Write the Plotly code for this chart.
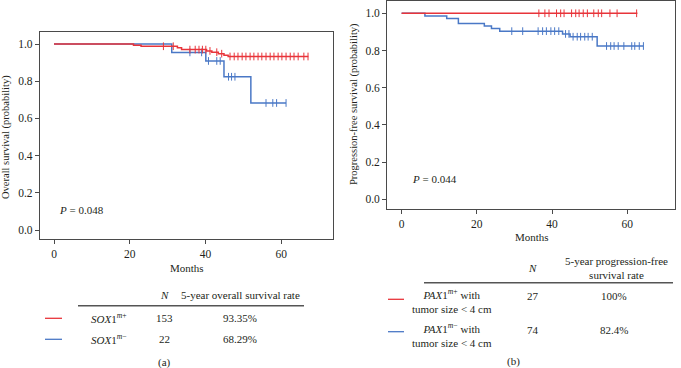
import numpy as np
import plotly.graph_objects as go

W, H = 681, 368
RED = "#E8343A"
BLUE = "#4A78C6"
FRAME = "#4a4a4a"
TXT = "#231f20"
FONT = "Liberation Serif"

# ---- (a) overall survival ----
os_pos_times = [0, 21, 23, 32.6, 33.7, 40.3, 41.7, 43.4, 44.9, 46.0]
os_pos_surv = [1.0, 0.994, 0.988, 0.980, 0.970, 0.963, 0.956, 0.948, 0.940, 0.933]
os_pos_end = 67.2
os_pos_censor = [28.9, 31.5, 35.9, 37.3, 38.3, 39.2, 40.1, 41.2, 43.0, 44.3,
                 46.5, 47.6, 48.6, 49.7, 50.7, 51.8, 52.8, 53.9, 54.9, 56.0,
                 57.1, 58.1, 59.2, 60.2, 61.3, 62.4, 63.4, 64.5, 66.0, 67.1]

os_neg_times = [0, 31.1, 40.1, 44.9, 52.0]
os_neg_surv = [1.0, 0.955, 0.909, 0.824, 0.683]
os_neg_end = 61.3
os_neg_censor = [35.9, 39.0, 40.8, 43.0, 43.9, 46.1, 46.9, 47.8, 56.0, 57.8, 58.8, 61.3]

# ---- (b) progression-free survival ----
pfs_pos_times = [0]
pfs_pos_surv = [1.0]
pfs_pos_end = 62.7
pfs_pos_censor = [36.5, 38.1, 39.2, 41.2, 42.3, 43.2, 45.2, 46.3, 47.2, 48.3,
                  49.4, 51.1, 52.3, 53.2, 55.4, 57.3, 62.5]

pfs_neg_times = [0, 6.2, 12.0, 15.1, 22.0, 23.9, 26.1, 42.8, 44.8, 52.0]
pfs_neg_surv = [1.0, 0.986, 0.972, 0.945, 0.932, 0.918, 0.904, 0.889, 0.874, 0.824]
pfs_neg_end = 64.3
pfs_neg_censor = [29.3, 32.2, 36.3, 37.5, 38.5, 39.7, 40.7, 41.8, 43.6, 44.5,
                  45.6, 46.7, 47.6, 48.7, 49.6, 50.7, 54.5, 55.6, 56.5, 57.6,
                  59.1, 61.2, 62.0, 63.2, 64.3]

x_ticks = [0, 20, 40, 60]
y_ticks = [0.0, 0.2, 0.4, 0.6, 0.8, 1.0]

table_a_header = ["N", "5-year overall survival rate"]
table_a_groups = ["<i>SOX</i>1<sup><i>m</i>+</sup>", "<i>SOX</i>1<sup><i>m</i>−</sup>"]
table_a_n = ["153", "22"]
table_a_rate = ["93.35%", "68.29%"]

table_b_groups = ["<i>PAX</i>1<sup><i>m</i>+</sup> with<br>tumor size &lt; 4 cm",
                  "<i>PAX</i>1<sup><i>m</i>−</sup> with<br>tumor size &lt; 4 cm"]
table_b_n = ["27", "74"]
table_b_rate = ["100%", "82.4%"]


def px(x):
    return x / W


def py(y):
    return 1 - y / H


def step_xy(times, surv, end):
    return list(times) + [end], list(surv) + [surv[-1]]


def censor_y(times, surv, cens):
    idx = np.searchsorted(np.array(times), np.array(cens), side="right") - 1
    return [surv[i] for i in idx]


fig = go.Figure()


def add_curve(times, surv, end, cens, color, xa, ya):
    xs, ys = step_xy(times, surv, end)
    fig.add_trace(go.Scatter(x=xs, y=ys, mode="lines", line=dict(color=color, width=1.5, shape="hv"),
                             xaxis=xa, yaxis=ya, showlegend=False, hoverinfo="skip"))
    fig.add_trace(go.Scatter(x=cens, y=censor_y(times, surv, cens), mode="markers",
                             marker=dict(symbol="line-ns", size=5.5, line=dict(color=color, width=1)),
                             xaxis=xa, yaxis=ya, showlegend=False, hoverinfo="skip"))


add_curve(os_neg_times, os_neg_surv, os_neg_end, os_neg_censor, BLUE, "x", "y")
add_curve(os_pos_times, os_pos_surv, os_pos_end, os_pos_censor, RED, "x", "y")
add_curve(pfs_neg_times, pfs_neg_surv, pfs_neg_end, pfs_neg_censor, BLUE, "x2", "y2")
add_curve(pfs_pos_times, pfs_pos_surv, pfs_pos_end, pfs_pos_censor, RED, "x2", "y2")

axis_common = dict(showline=True, mirror=True, linecolor=FRAME, linewidth=1.3, ticks="outside",
                   ticklen=4, tickcolor=FRAME, tickwidth=1, showgrid=False, zeroline=False,
                   tickfont=dict(family=FONT, size=11.5, color=TXT))

fig.update_layout(
    width=W, height=H, margin=dict(l=0, r=0, t=0, b=0),
    paper_bgcolor="white", plot_bgcolor="white",
    xaxis=dict(domain=[px(40), px(333)], range=[-3.7, 73.7], tickvals=x_ticks, anchor="y", **axis_common),
    yaxis=dict(domain=[py(239.3), py(32.3)], range=[-0.05, 1.063], tickvals=y_ticks, tickformat=".1f",
               anchor="x", **axis_common),
    xaxis2=dict(domain=[px(387.3), px(675)], range=[-3.8, 72.7], tickvals=x_ticks, anchor="y2", **axis_common),
    yaxis2=dict(domain=[py(209), py(1)], range=[-0.052, 1.066], tickvals=y_ticks, tickformat=".1f",
                anchor="x2", **axis_common),
)

ann = []


def text(x, y, s, size=11, angle=0, xanchor="center"):
    ann.append(dict(x=px(x), y=py(y), xref="paper", yref="paper", text=s, showarrow=False,
                    textangle=angle, xanchor=xanchor, yanchor="middle",
                    font=dict(family=FONT, size=size, color=TXT)))


# axis titles
text(6, 137, "Overall survival (probability)", size=10.5, angle=-90)
text(186.5, 268, "Months", size=11)
text(354, 104, "Progression-free survival (probability)", size=10.5, angle=-90)
text(532, 237, "Months", size=11)
# p-values
text(57, 210, "<i>P</i> = 0.048", size=11, xanchor="left")
text(410, 179, "<i>P</i> = 0.044", size=11, xanchor="left")

# table (a)
text(164, 295, "<i>" + table_a_header[0] + "</i>")
text(240, 295, table_a_header[1])
row_y_a = [318.3, 339.3]
for i in range(2):
    text(109, row_y_a[i], table_a_groups[i])
    text(164, row_y_a[i], table_a_n[i])
    text(240, row_y_a[i], table_a_rate[i])
text(164, 362, "(a)")

# table (b)
text(532.7, 268.3, "<i>N</i>")
text(616, 268.3, "5-year progression-free<br>survival rate")
row_y_b = [300.8, 334.5]
for i in range(2):
    text(451.7, row_y_b[i], table_b_groups[i])
    text(532.7, row_y_b[i] - 5, table_b_n[i])
    text(614, row_y_b[i] - 5, table_b_rate[i])
text(513.3, 361, "(b)")

fig.update_layout(annotations=ann)

shapes = [
    dict(type="line", xref="paper", yref="paper", x0=px(78), x1=px(304), y0=py(305.7), y1=py(305.7),
         line=dict(color="#555555", width=1.5)),
    dict(type="line", xref="paper", yref="paper", x0=px(45), x1=px(62), y0=py(318.3), y1=py(318.3),
         line=dict(color=RED, width=1.3)),
    dict(type="line", xref="paper", yref="paper", x0=px(45), x1=px(62), y0=py(339.3), y1=py(339.3),
         line=dict(color=BLUE, width=1.3)),
    dict(type="line", xref="paper", yref="paper", x0=px(424), x1=px(673), y0=py(282.7), y1=py(282.7),
         line=dict(color="#555555", width=1.5)),
    dict(type="line", xref="paper", yref="paper", x0=px(388), x1=px(404), y0=py(299.3), y1=py(299.3),
         line=dict(color=RED, width=1.3)),
    dict(type="line", xref="paper", yref="paper", x0=px(388), x1=px(404), y0=py(331.7), y1=py(331.7),
         line=dict(color=BLUE, width=1.3)),
]
fig.update_layout(shapes=shapes)

fig.write_html("out.html", config={"displayModeBar": False},
               post_script="document.body.style.margin='0';document.body.style.padding='0';"
                           "document.body.style.overflow='hidden';")
